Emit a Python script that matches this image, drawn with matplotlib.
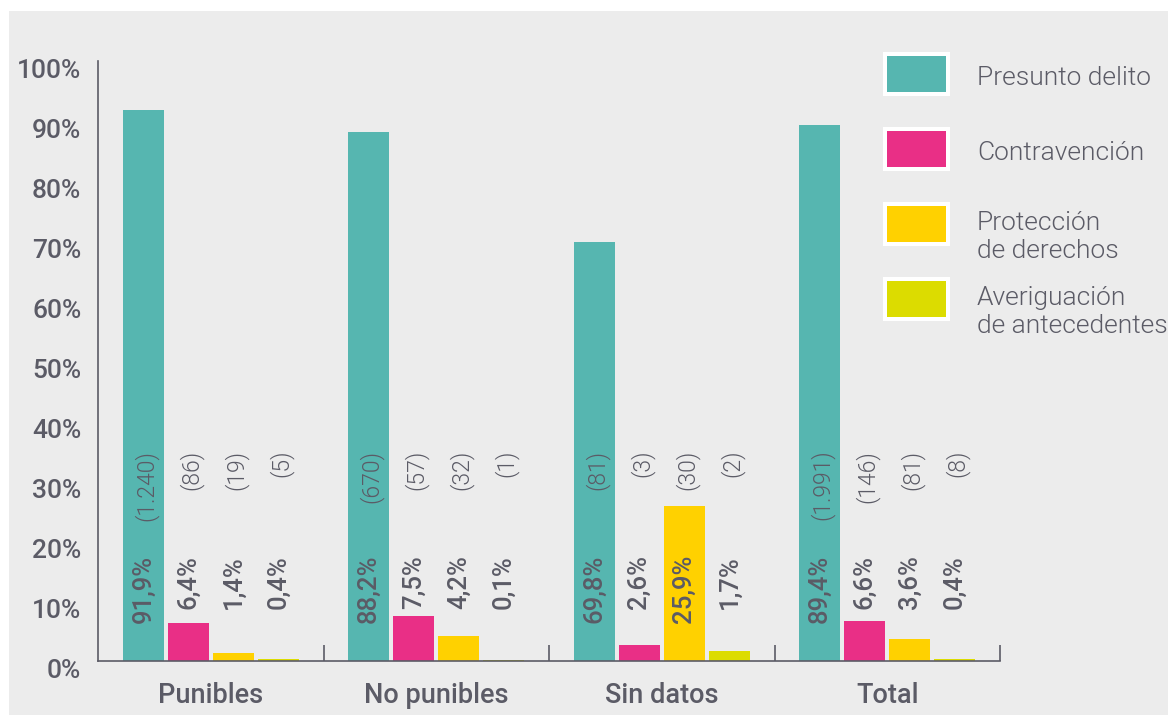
import matplotlib
matplotlib.use("Agg")
import matplotlib.pyplot as plt
import matplotlib.transforms as mtransforms
from matplotlib.patches import Rectangle
import numpy as np

# ---- data ----
groups = ["Punibles", "No punibles", "Sin datos", "Total"]
series = ["Presunto delito", "Contravención", "Protección\nde derechos", "Averiguación\nde antecedentes"]
presunto_delito = [91.9, 88.2, 69.8, 89.4]
contravencion = [6.4, 7.5, 2.6, 6.6]
proteccion = [1.4, 4.2, 25.9, 3.6]
averiguacion = [0.4, 0.1, 1.7, 0.4]
pct_labels = [["91,9%", "88,2%", "69,8%", "89,4%"],
              ["6,4%", "7,5%", "2,6%", "6,6%"],
              ["1,4%", "4,2%", "25,9%", "3,6%"],
              ["0,4%", "0,1%", "1,7%", "0,4%"]]
count_labels = [["(1.240)", "(670)", "(81)", "(1.991)"],
                ["(86)", "(57)", "(3)", "(146)"],
                ["(19)", "(32)", "(30)", "(81)"],
                ["(5)", "(1)", "(2)", "(8)"]]
yticks = [0, 10, 20, 30, 40, 50, 60, 70, 80, 90, 100]
ytick_labels = ["0%", "10%", "20%", "30%", "40%", "50%", "60%", "70%", "80%", "90%", "100%"]

values = [presunto_delito, contravencion, proteccion, averiguacion]
colors = ["#56b6b0", "#e92f86", "#ffd100", "#dcdc00"]
TXT = "#5b5b66"
BG = "#ececec"

plt.rcParams['font.family'] = ['Roboto', 'DejaVu Sans']

W, H = 1168, 715
fig = plt.figure(figsize=(W / 100, H / 100), dpi=100, facecolor="white")
# gray panel
fig.patches.append(Rectangle((9 / W, 0), 1 - 9 / W, 1 - 11 / H, transform=fig.transFigure,
                             facecolor=BG, edgecolor="none", zorder=-10))

ax = fig.add_axes([98 / W, 1 - 661 / H, (1000 - 98) / W, 600 / H])
ax.set_facecolor("none")
ax.set_xlim(0, 4)
ax.set_ylim(0, 100)

x = np.arange(len(groups)) + 0.5
bw = 41 / 225.5
pitch = 45 / 225.5
for i, (vals, col) in enumerate(zip(values, colors)):
    pos = x + (i - 1.5) * pitch
    ax.bar(pos, vals, width=bw, color=col, zorder=2)
    for j, p in enumerate(pos):
        ax.text(p, 17.7, pct_labels[i][j], rotation=90, ha="center", va="top",
                fontsize=18.5, color=TXT, fontweight=500, zorder=3)
        ax.text(p + 0.012, 35.2, count_labels[i][j], rotation=90, ha="center", va="top",
                fontsize=16.5, color=TXT, fontweight=300, zorder=3)

for s in ["top", "right"]:
    ax.spines[s].set_visible(False)
for s in ["left", "bottom"]:
    ax.spines[s].set_color(TXT)
    ax.spines[s].set_linewidth(1.2)

ax.set_yticks(yticks)
ax.set_yticklabels(ytick_labels, fontweight=500)
ax.tick_params(axis="y", length=0, pad=12, labelsize=19, labelcolor=TXT)
offset = mtransforms.ScaledTranslation(0, -7 / 100, fig.dpi_scale_trans)
for lab in ax.get_yticklabels():
    lab.set_transform(lab.get_transform() + offset)

ax.set_xticks(x)
ax.set_xticklabels(groups, fontweight=500)
ax.tick_params(axis="x", which="major", length=0, pad=15, labelsize=19.5, labelcolor=TXT)
ax.set_xticks([1, 2, 3, 4], minor=True)
ax.tick_params(axis="x", which="minor", direction="in", length=11.5, width=1.2, color=TXT)

# legend (manual)
box_tops = [52, 127, 202, 277]
for k, (name, col) in enumerate(zip(series, colors)):
    top = box_tops[k]
    fig.patches.append(Rectangle((883 / W, 1 - (top + 44) / H), 67 / W, 44 / H,
                                 transform=fig.transFigure, facecolor="white",
                                 edgecolor="none", zorder=5))
    fig.patches.append(Rectangle((887 / W, 1 - (top + 40) / H), 59 / W, 36 / H,
                                 transform=fig.transFigure, facecolor=col,
                                 edgecolor="none", zorder=6))
    cy = top + 22
    if "\n" in name:
        fig.text(977 / W, 1 - (cy - 13) / H, name, ha="left", va="top", fontsize=19,
                 color=TXT, fontweight=300, linespacing=1.22)
    else:
        fig.text(977 / W, 1 - (cy + 4) / H, name, ha="left", va="center", fontsize=19,
                 color=TXT, fontweight=300)

fig.savefig("out.png", dpi=100, facecolor="white")
